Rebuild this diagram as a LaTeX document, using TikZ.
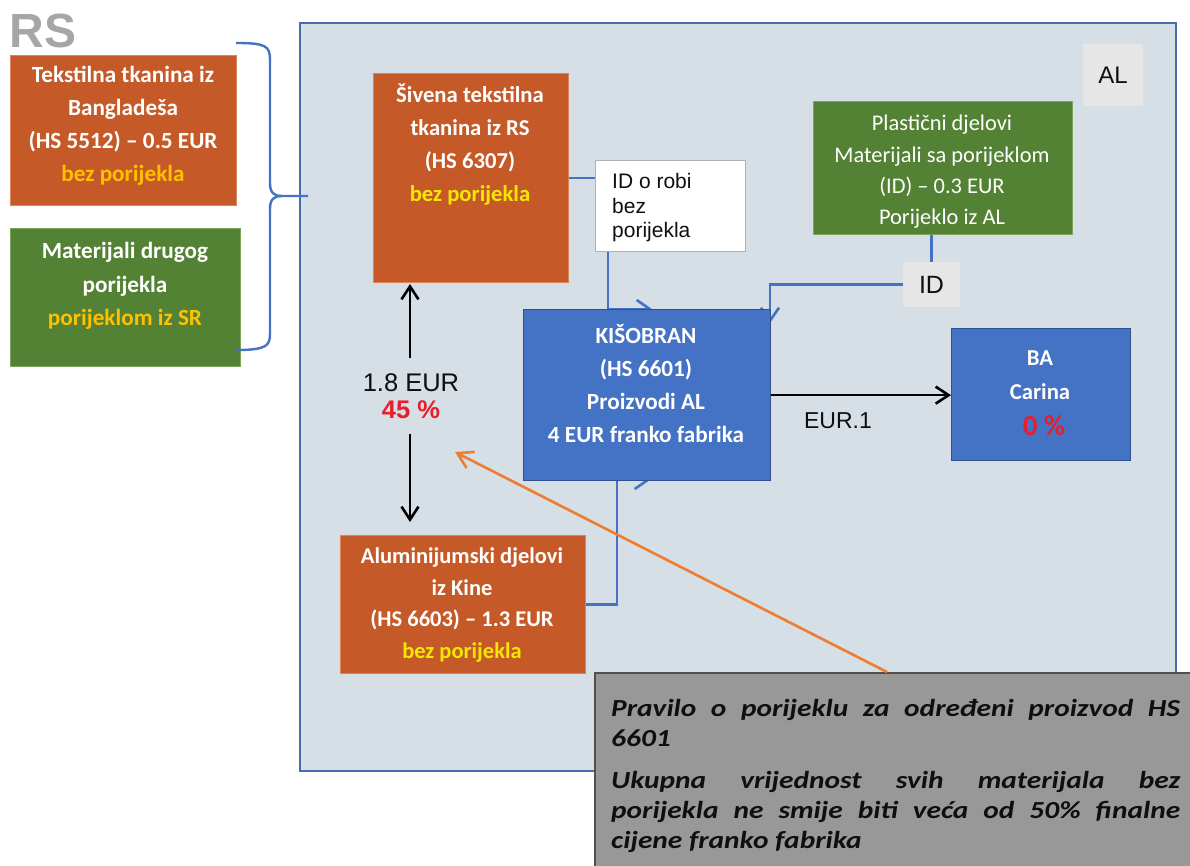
\documentclass[tikz,border=0pt]{standalone}
\usepackage{fontspec}
\setmainfont{Carlito}
\newfontfamily\arial{Liberation Sans}
\newfontfamily\notefont[FakeStretch=1.2]{Carlito}
\usetikzlibrary{arrows.meta,calc}
\pgfdeclarelayer{bgA}
\pgfdeclarelayer{bgB}
\pgfsetlayers{bgA,bgB,main}
\definecolor{orng}{RGB}{197,90,40}
\definecolor{orngedge}{RGB}{222,130,90}
\definecolor{grn}{RGB}{84,130,53}
\definecolor{grnedge}{RGB}{120,165,90}
\definecolor{blu}{RGB}{68,114,196}
\definecolor{bluedge}{RGB}{47,82,143}
\definecolor{panel}{RGB}{214,222,230}
\definecolor{panedge}{RGB}{72,108,176}
\definecolor{gold}{RGB}{255,192,0}
\definecolor{yel}{RGB}{242,232,0}
\definecolor{redt}{RGB}{232,30,40}
\definecolor{oarr}{RGB}{237,125,49}
\definecolor{lgray}{RGB}{230,230,230}
\definecolor{notefill}{RGB}{152,152,152}
\definecolor{noteedge}{RGB}{80,80,80}
\definecolor{rsgray}{RGB}{166,166,166}
\definecolor{txtblk}{RGB}{15,15,15}
\begin{document}
\begin{tikzpicture}[x=1pt,y=-1pt,
  box/.style={rectangle, inner sep=0pt, anchor=north west, line width=0.8pt},
  obox/.style={box, fill=orng, draw=orngedge},
  gbox/.style={box, fill=grn, draw=grnedge},
  bbox/.style={box, fill=blu, draw=bluedge, line width=1.3pt},
  wt/.style={text=white, font=\fontsize{22.7}{33}\selectfont\bfseries, align=center, inner sep=0pt},
  conn/.style={draw=blu, line width=2.6pt},
  barb/.style={-{Straight Barb[length=13pt,width=18pt]}},
  blk/.style={draw=black, line width=2.6pt, -{Straight Barb[length=13pt,width=17pt]}},
  atxt/.style={font=\arial\fontsize{25.5}{28}\selectfont, text=txtblk, inner sep=0pt}
]
\useasboundingbox (0,0) rectangle (1190,866);

% panel
\begin{pgfonlayer}{bgA}
\node[box, fill=panel, draw=panedge, line width=1.8pt, minimum width=876pt, minimum height=748pt] (panel) at (299,22) {};
\end{pgfonlayer}

% RS side
\node[font=\arial\bfseries\fontsize{48}{48}\selectfont, text=rsgray, inner sep=0pt] (rs) at (43,31) {RS};
\node[obox, minimum width=226pt, minimum height=150pt] (tek) at (10,55) {};
\node[wt, font=\fontsize{23.2}{33}\selectfont\bfseries] (tekT) at (123,126) {Tekstilna tkanina iz\\Bangladeša\\(HS 5512) – 0.5 EUR\\\textcolor{gold}{bez porijekla}};
\node[gbox, minimum width=230pt, minimum height=138pt] (mat) at (10,228) {};
\node[wt, font=\fontsize{23.2}{33.5}\selectfont\bfseries] (matT) at (125,286) {Materijali drugog\\porijekla\\\textcolor{gold}{porijeklom iz SR}};

% brace
\coordinate (bt) at (236,43);
\coordinate (bb) at (236,350);
\coordinate (bend) at (308,196);
\draw[blu, line width=2.4pt] (bt) .. controls (266,43) and (270,46) .. (270,60) -- (270,183)
  .. controls (270,193) and (274,196) .. (282,196) -- (bend);
\draw[blu, line width=2.4pt] (282,196) .. controls (274,196) and (270,199) .. (270,209) -- (270,334)
  .. controls (270,346) and (266,350) .. (bb);

% AL label
\node[fill=lgray, minimum width=60pt, minimum height=62pt, font=\arial\fontsize{24}{24}\selectfont, text=txtblk] (al) at (1113,75) {AL};

% Šivena
\node[obox, minimum width=195pt, minimum height=209pt] (siv) at (373,73) {};
\node[wt] (sivT) at (470,145) {Šivena tekstilna\\tkanina iz RS\\(HS 6307)\\\textcolor{yel}{bez porijekla}};

% ID o robi
\node[box, fill=white, draw=gray!60, line width=1.2pt, minimum width=150pt, minimum height=91pt] (idr) at (595,160) {};
\node[font=\arial\fontsize{21}{24.5}\selectfont, text=txtblk, align=left, inner sep=0pt, anchor=west] (idrT) at (612,208) {ID o robi\\bez\\porijekla};

% Plastični
\node[gbox, minimum width=259pt, minimum height=133pt] (pla) at (813,101) {};
\node[text=white, font=\fontsize{22.4}{31.3}\selectfont, align=center, inner sep=0pt] (plaT) at (942,172) {Plastični djelovi\\Materijali sa porijeklom\\(ID) – 0.3 EUR\\Porijeklo iz AL};

% ID
\node[fill=lgray, minimum width=57pt, minimum height=45pt, font=\arial\fontsize{25}{25}\selectfont, text=txtblk, inner sep=0pt] (id) at (931.5,284.5) {ID};

% KIŠOBRAN
\node[bbox, minimum width=247pt, minimum height=171pt] (kis) at (523,309) {};
\node[wt, font=\fontsize{23.2}{33}\selectfont\bfseries] (kisT) at (646,384) {KIŠOBRAN\\(HS 6601)\\Proizvodi AL\\4 EUR franko fabrika};

% BA
\node[bbox, minimum width=179pt, minimum height=132pt] (ba) at (951,328) {};
\node[wt, font=\fontsize{22.7}{33.5}\selectfont\bfseries] (baT) at (1040,375) {BA\\Carina};
\node[text=redt, font=\fontsize{29}{29}\selectfont\bfseries, inner sep=0pt] (baP) at (1044,426) {0 \%};

% Aluminijumski
\node[obox, minimum width=245pt, minimum height=138pt] (alu) at (340,535) {};
\node[wt, font=\fontsize{22.5}{31.5}\selectfont\bfseries] (aluT) at (462,605) {Aluminijumski djelovi\\iz Kine\\(HS 6603) – 1.3 EUR\\\textcolor{yel}{bez porijekla}};

% 1.8 EUR label
\node[atxt, align=center, inner sep=0pt, minimum height=75pt] (pct) at (411,396) {1.8 EUR\\[-1pt]\textcolor{redt}{\bfseries 45 \%}};
\draw[blk] (pct.north -| 410,0) -- (410,284);
\draw[blk] (pct.south -| 410,0) -- (410,522);

% blue connectors
\coordinate (c1) at (0,178);
\coordinate (k1) at (652,309);
\coordinate (k2) at (770,323);
\coordinate (k3) at (650,480);
\coordinate (x5) at (617,0);
\begin{pgfonlayer}{bgB}
\draw[conn] (siv.east |- c1) -- (idr.west |- c1);
\draw[conn, barb] ([xshift=13pt]idr.south west) |- (k1);
\draw[conn] (id.north |- pla.south) -- (id.north);
\draw[conn, barb] (id.west) -| (k2);
\draw[conn, barb] (alu.east) -| (x5 |- k3) -- (k3);
\end{pgfonlayer}

% EUR.1 arrow
\draw[blk] (kis.east) -- (kis.east -| ba.west);
\node[font=\arial\fontsize{23}{23}\selectfont, text=txtblk, inner sep=0pt] (eur) at (838,421) {EUR.1};

% note box
\node[box, fill=notefill, draw=noteedge, line width=1.5pt, minimum width=600pt, minimum height=196pt] (note) at (594,672) {};
\node[anchor=north west, inner sep=0pt, text width=569pt, align=justify, text=txtblk,
  font=\notefont\fontsize{24.5}{29.8}\selectfont\bfseries\itshape] (noteT) at (611,699)
  {Pravilo o porijeklu za određeni proizvod HS\linebreak 6601\par\vspace{13pt}Ukupna vrijednost svih materijala bez\linebreak porijekla ne smije biti veća od 50\% finalne\linebreak cijene franko fabrika};

% orange arrow
\coordinate (otip) at (455,452);
\draw[draw=oarr, line width=2.6pt, -{Straight Barb[length=15pt,width=18pt]}] ([xshift=293pt]note.north west) -- (otip);
\end{tikzpicture}
\end{document}
